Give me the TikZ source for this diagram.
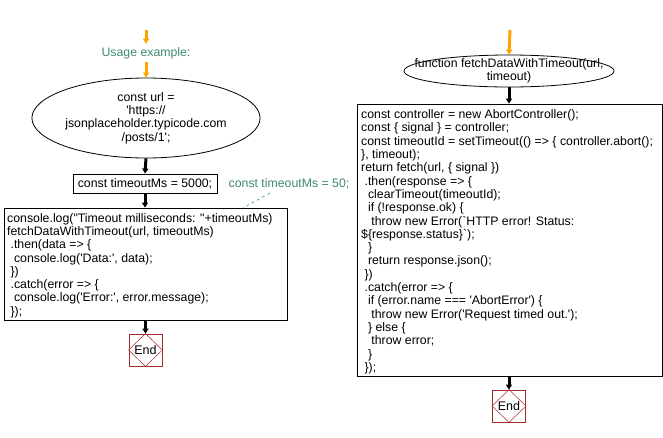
\documentclass[tikz,border=0pt]{standalone}
\usepackage{fontspec}
\newfontfamily\codef{Liberation Sans}
\usetikzlibrary{arrows.meta,shapes.geometric}
\definecolor{flowor}{HTML}{FFA500}
\definecolor{cmtgreen}{HTML}{3F8A6C}
\definecolor{endred}{HTML}{A52A2A}
\tikzset{
  codefont/.style={font=\codef\fontsize{12.3}{13.3}\selectfont},
  startell/.style={draw, ellipse, line width=0.8pt, codefont, align=center, inner sep=0pt},
  flowarrow/.style={line width=3pt, -{Triangle[length=5pt,width=6pt]}},
  orarrow/.style={flowarrow, draw=flowor, color=flowor},
  endbox/.style={draw=endred, line width=0.8pt, minimum width=33pt, minimum height=32pt, inner sep=0pt, font=\codef\fontsize{12.5}{13}\selectfont},
  cmt/.style={text=cmtgreen, font=\codef\fontsize{12.3}{13}\selectfont}
}
\begin{document}
\begin{tikzpicture}[x=1pt,y=-1pt]
\useasboundingbox (0,0) rectangle (663,437);
% left column
\coordinate (ls) at (146,30);
\node[cmt] (usage) at (146,53) {Usage example:};
\node[startell, minimum width=195pt, minimum height=80pt] (url) at (146,118) {const url =\\'https://\\jsonplaceholder.typicode.com\\/posts/1';};
\node[draw, line width=0.8pt, codefont, minimum width=144pt, minimum height=19pt, inner sep=0pt] (tmo) at (145,183.5) {const timeoutMs = 5000;};
\node[cmt] (cmtx) at (289,184) {const timeoutMs = 50;};
\node[draw, line width=0.8pt, minimum width=283pt, minimum height=112pt, inner sep=0pt] (call) at (145.5,264) {};
\node[codefont, align=left, anchor=north west, inner sep=0pt] (calltxt) at (7,213) {console.log("Timeout milliseconds: "+timeoutMs)\\fetchDataWithTimeout(url, timeoutMs)\\\ .then(data => \{\\\ \ console.log('Data:', data);\\\ \})\\\ .catch(error => \{\\\ \ console.log('Error:', error.message);\\\ \});};
\node[endbox] (end1) at (145.5,350) {End};
\draw[endred, line width=0.5pt] (end1.north) -- (end1.east) -- (end1.south) -- (end1.west) -- cycle;
\draw[orarrow] (ls) -- (usage.north);
\draw[orarrow] (usage.south) -- (url.north);
\draw[flowarrow] (url.south) -- (tmo.north);
\draw[flowarrow] (tmo.south) -- (call.north -| tmo.south);
\draw[flowarrow] (call.south -| end1.north) -- (end1.north);
\draw[cmtgreen, dashed, line width=0.6pt] (270,193) coordinate (cm1) -- (243,208) coordinate (cm2);
% right column
\coordinate (rs) at (510,30);
\node[draw, ellipse, line width=0.8pt, minimum width=210pt, minimum height=32pt, inner sep=0pt] (fn) at (509,71) {};
\node[codefont, align=center, inner sep=0pt] (fntxt) at (509,71) {function fetchDataWithTimeout(url,\\timeout)};
\node[draw, line width=0.8pt, minimum width=305pt, minimum height=272pt, inner sep=0pt] (body) at (509.5,240) {};
\node[codefont, align=left, anchor=north west, inner sep=0pt] (bodytxt) at (361,109.5) {const controller = new AbortController();\\const \{ signal \} = controller;\\const timeoutId = setTimeout(() => \{ controller.abort();\\\}, timeout);\\return fetch(url, \{ signal \})\\\ .then(response => \{\\\ \ clearTimeout(timeoutId);\\\ \ if (!response.ok) \{\\\ \ \ throw new Error(`HTTP error! Status:\\\$\{response.status\}`);\\\ \ \}\\\ \ return response.json();\\\ \})\\\ .catch(error => \{\\\ \ if (error.name === 'AbortError') \{\\\ \ \ throw new Error('Request timed out.');\\\ \ \} else \{\\\ \ \ throw error;\\\ \ \}\\\ \});};
\node[endbox] (end2) at (509,406) {End};
\draw[endred, line width=0.5pt] (end2.north) -- (end2.east) -- (end2.south) -- (end2.west) -- cycle;
\draw[orarrow] (rs) -- (fn.north);
\draw[flowarrow] (fn.south) -- (body.north -| fn.south);
\draw[flowarrow] (body.south -| end2.north) -- (end2.north);
\end{tikzpicture}
\end{document}
